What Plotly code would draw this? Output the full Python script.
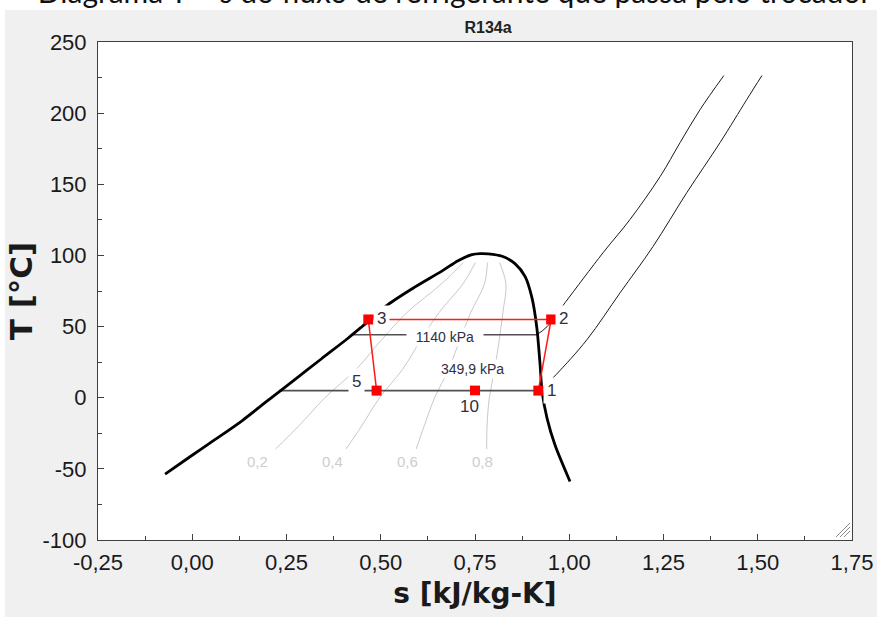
import plotly.graph_objects as go

# ---------------- data ----------------
# saturation dome of R134a (liquid side -> critical point -> vapour side)
dome_s = [-0.072, -0.006, 0.060, 0.132, 0.200, 0.272, 0.343, 0.413, 0.450, 0.519, 0.590,
          0.664, 0.705, 0.742, 0.764, 0.785, 0.822, 0.856, 0.883, 0.901, 0.914, 0.922,
          0.928, 0.941, 0.962, 1.002]
dome_T = [-53.7, -41.5, -29.5, -16.2, -2.1, 12.7, 27.4, 41.8, 49.9, 65.4, 77.7,
          89.3, 96.3, 100.6, 101.3, 101.1, 99.4, 94.2, 85.1, 70.3, 49.2, 25.5,
          4.4, -14.3, -33.1, -58.9]

# isobar 349,9 kPa
p_low_sat_s = [0.230, 0.922]
p_low_sat_T = [5.0, 5.0]
p_low_sup_s = [0.922, 0.965, 1.047, 1.135, 1.222, 1.312, 1.400, 1.471, 1.511]
p_low_sup_T = [5.0, 16.2, 40.8, 73.8, 106.2, 144.2, 179.3, 209.6, 226.4]

# isobar 1140 kPa
p_high_sat_s = [0.423, 0.914]
p_high_sat_T = [44.3, 44.3]
p_high_sup_s = [0.914, 0.941, 0.989, 1.090, 1.161, 1.241, 1.294, 1.347, 1.410]
p_high_sup_T = [44.3, 49.9, 66.8, 102.0, 125.2, 155.4, 179.3, 202.5, 226.4]

# constant quality lines
q_T = [-36, -20, 0, 20, 40, 60, 80, 95]
q02_s = [0.221, 0.282, 0.352, 0.435, 0.500, 0.570, 0.661, 0.719]
q04_s = [0.408, 0.449, 0.497, 0.558, 0.605, 0.655, 0.718, 0.751]
q06_s = [0.594, 0.615, 0.643, 0.680, 0.709, 0.739, 0.775, 0.783]
q08_s = [0.781, 0.782, 0.788, 0.802, 0.814, 0.824, 0.832, 0.815]
q_labels = ["0,2", "0,4", "0,6", "0,8"]
q_label_s = [0.174, 0.373, 0.572, 0.769]
q_label_T = -45

# cycle state points
state_names = ["1", "2", "3", "5", "10"]
state_s = [0.918, 0.952, 0.467, 0.489, 0.750]
state_T = [5.0, 55.0, 55.0, 5.0, 5.0]
# red process path 1 -> 2 -> 3 -> 5
path_s = [0.918, 0.952, 0.467, 0.489]
path_T = [5.0, 55.0, 55.0, 5.0]

x_tickvals = [-0.25, 0.0, 0.25, 0.5, 0.75, 1.0, 1.25, 1.5, 1.75]
x_ticktext = ["-0,25", "0,00", "0,25", "0,50", "0,75", "1,00", "1,25", "1,50", "1,75"]
x_minor = [-0.125, 0.125, 0.375, 0.625, 0.875, 1.125, 1.375, 1.625]
y_tickvals = [-100, -50, 0, 50, 100, 150, 200, 250]
y_ticktext = ["-100", "-50", "0", "50", "100", "150", "200", "250"]
y_minor = [-75, -25, 25, 75, 125, 175, 225]

# ---------------- figure ----------------
W, H = 877, 617
L, R, T_, B = 98, 25, 42, 77
PW, PH = W - L - R, H - T_ - B


def px(xp):
    return (xp - L) / PW


def py(yp):
    return (H - B - yp) / PH


fig = go.Figure()

grey_q = "#c9c9c9"
for qs in [q02_s, q04_s, q06_s, q08_s]:
    fig.add_trace(go.Scatter(x=qs, y=q_T, mode="lines", line=dict(color=grey_q, width=1, shape="spline"),
                             hoverinfo="skip", showlegend=False))

fig.add_trace(go.Scatter(x=p_low_sup_s, y=p_low_sup_T, mode="lines",
                         line=dict(color="#1a1a1a", width=1, shape="spline"), showlegend=False))
fig.add_trace(go.Scatter(x=p_high_sup_s, y=p_high_sup_T, mode="lines",
                         line=dict(color="#1a1a1a", width=1, shape="spline"), showlegend=False))
fig.add_trace(go.Scatter(x=p_low_sat_s, y=p_low_sat_T, mode="lines",
                         line=dict(color="#505050", width=1.6), showlegend=False))
fig.add_trace(go.Scatter(x=p_high_sat_s, y=p_high_sat_T, mode="lines",
                         line=dict(color="#505050", width=1.6), showlegend=False))

fig.add_trace(go.Scatter(x=dome_s, y=dome_T, mode="lines",
                         line=dict(color="black", width=2.8, shape="spline", smoothing=0.8),
                         showlegend=False))

fig.add_trace(go.Scatter(x=path_s, y=path_T, mode="lines",
                         line=dict(color="#ff1a1a", width=1.5), showlegend=False))
fig.add_trace(go.Scatter(x=state_s, y=state_T, mode="markers",
                         marker=dict(symbol="square", size=10, color="#ff0000"),
                         text=state_names, showlegend=False))

FAM = "Liberation Sans, Arial, sans-serif"
TFAM = "DejaVu Sans, Verdana, sans-serif"
lab_font = dict(family=FAM, size=17, color="#2f3040")
anns = []
# state labels (white boxes mask the lines below, like in the reference)
state_lab_pos = {"3": (381, 318), "2": (563, 318), "1": (551, 390), "5": (356, 381)}
for name, (xp_, yp_) in state_lab_pos.items():
    anns.append(dict(x=px(xp_), y=py(yp_), xref="paper", yref="paper", text=name, showarrow=False,
                     font=lab_font, bgcolor="white", borderpad=3, xanchor="center", yanchor="middle"))
anns.append(dict(x=px(469), y=py(418), xref="paper", yref="paper", text="10", showarrow=False,
                 font=dict(family=FAM, size=17, color="#2f3040"), bgcolor="white", borderpad=1))
anns.append(dict(x=px(445), y=py(337), xref="paper", yref="paper", text="\u00a0\u00a01140 kPa\u00a0\u00a0",
                 showarrow=False, font=dict(family=FAM, size=14, color="#2f3040"),
                 bgcolor="white", borderpad=1))
anns.append(dict(x=px(472), y=py(369), xref="paper", yref="paper", text="349,9 kPa",
                 showarrow=False, font=dict(family=FAM, size=14, color="#2f3040"),
                 bgcolor="white", borderpad=1))
for lab, s in zip(q_labels, q_label_s):
    anns.append(dict(x=s, y=q_label_T, xref="x", yref="y", text=lab, showarrow=False,
                     font=dict(family=FAM, size=15, color="#cdcdcd")))
# caption cut off at the top of the image (as in the reference)
anns.append(dict(x=px(3), y=py(11), xref="paper", yref="paper", xanchor="left", yanchor="bottom",
                 text="\u2013\u00a0 Diagrama T \u2013 s do fluxo de refrigerante que passa pelo trocador",
                 showarrow=False, font=dict(family="Lato, Carlito, sans-serif", size=30, color="#111111")))

shapes = [
    # white strip above / left of the grey panel
    dict(type="rect", xref="paper", yref="paper", x0=px(-5), x1=px(W + 5), y0=py(10), y1=py(-5),
         fillcolor="white", line=dict(width=0), layer="below"),
    dict(type="rect", xref="paper", yref="paper", x0=px(-5), x1=px(5), y0=py(H + 5), y1=py(-5),
         fillcolor="white", line=dict(width=0), layer="below"),
]
# resize grip
for a, b in [(836, 850), (840, 850), (844, 850)]:
    shapes.append(dict(type="line", xref="paper", yref="paper", x0=px(a), y0=py(537), x1=px(b), y1=py(537 - (b - a)),
                       line=dict(color="#8a8a8a", width=1)))

axis_font = dict(family=FAM, size=22, color="#1a1a1a")
fig.update_layout(
    width=W, height=H,
    margin=dict(l=L, r=R, t=T_, b=B, autoexpand=False),
    paper_bgcolor="#f0f0f0", plot_bgcolor="white",
    title=dict(text="<b>R134a</b>", x=px(488), xref="paper", xanchor="center", y=1 - 27 / H, yanchor="middle",
               font=dict(family="Liberation Sans Narrow, Liberation Sans, Arial, sans-serif", size=16, color="#222")),
    annotations=anns, shapes=shapes, showlegend=False,
    xaxis=dict(range=[-0.25, 1.75], tickvals=x_tickvals, ticktext=x_ticktext, ticks="inside", ticklen=6,
               tickcolor="#404040", minor=dict(tickvals=x_minor, ticks="inside", ticklen=4, tickcolor="#404040"),
               showgrid=False, zeroline=False, showline=True, linecolor="#404040", linewidth=1, mirror=True,
               tickfont=axis_font, ticklabelstandoff=3,
               title=dict(text="<b>s [kJ/kg-K]</b>", standoff=8,
                          font=dict(family=TFAM, size=28, color="#1a1a1a"))),
    yaxis=dict(range=[-100, 250], tickvals=y_tickvals, ticktext=y_ticktext, ticks="inside", ticklen=6,
               tickcolor="#404040", minor=dict(tickvals=y_minor, ticks="inside", ticklen=4, tickcolor="#404040"),
               showgrid=False, zeroline=False, showline=True, linecolor="#404040", linewidth=1, mirror=True,
               tickfont=axis_font, ticklabelstandoff=6,
               title=dict(text="<b>T [°C]</b>", standoff=0,
                          font=dict(family=TFAM, size=31, color="#1a1a1a"))),
)

fig.write_html("out.html", config={"displayModeBar": False},
               post_script="document.body.style.margin='0';document.body.style.overflow='hidden';")
